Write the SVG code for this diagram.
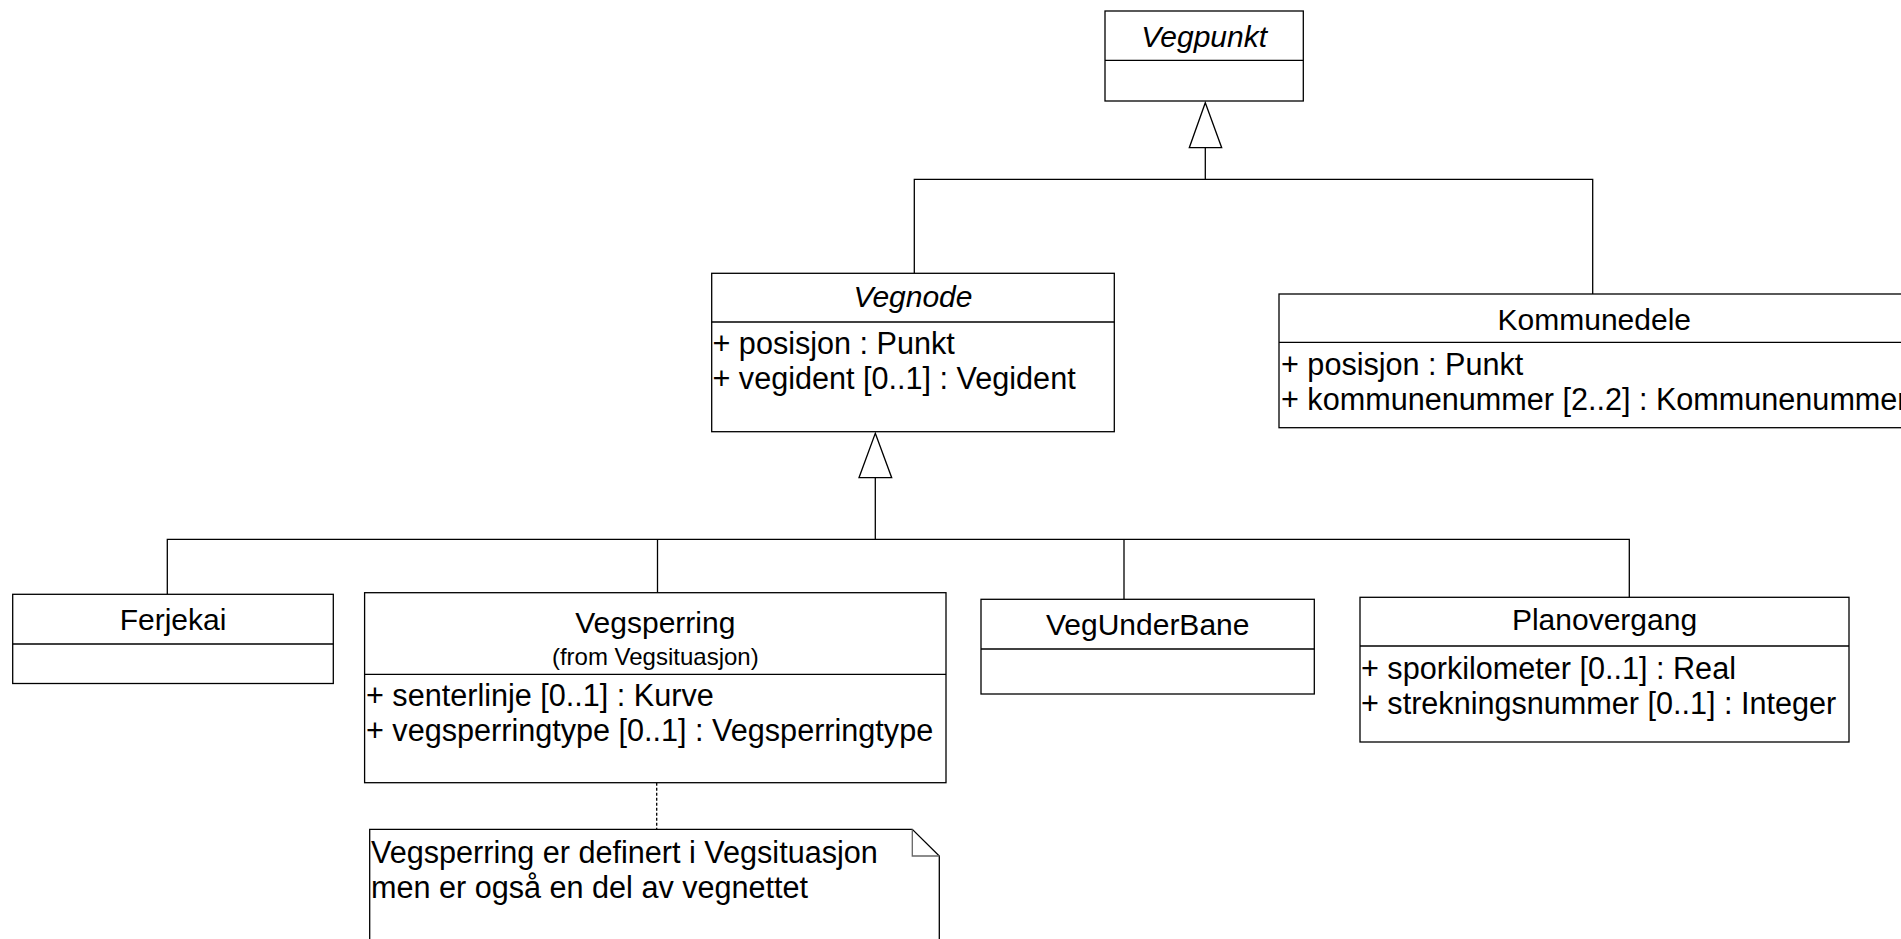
<svg xmlns="http://www.w3.org/2000/svg" width="1901" height="939" viewBox="0 0 1901 939">
<style>
  .box { fill: #ffffff; stroke: #000000; stroke-width: 1.3; }
  .div { stroke: #000000; stroke-width: 1.3; fill: none; }
  .t { font-family: "Liberation Sans", Arial, sans-serif; font-size: 30.6px; fill: #000000; }
  .title { text-anchor: middle; font-size: 30px; }
  .it { font-style: italic; }
  .small { font-family: "Liberation Sans", Arial, sans-serif; font-size: 24px; fill: #000000; text-anchor: middle; }
  .conn { stroke: #000000; stroke-width: 1.3; fill: none; }
  .tri { fill: #ffffff; stroke: #000000; stroke-width: 1.3; }
  .dash { stroke: #000000; stroke-width: 1.3; fill: none; stroke-dasharray: 3 2; }
  .fold { stroke: #666666; stroke-width: 1.3; fill: none; }
</style>
<rect width="1901" height="939" fill="#ffffff"/>

<g id="connectors">
  <!-- Vegpunkt generalization -->
  <path class="conn" d="M914.3,273.3 V179.3 H1592.7 V294"/>
  <path class="conn" d="M1205.3,147.7 V179.3"/>
  <polygon class="tri" points="1205.3,102.7 1221.7,147.7 1189.3,147.7"/>
  <!-- Vegnode generalization -->
  <path class="conn" d="M167.3,594.3 V539.3 H1629.3 V597.3"/>
  <path class="conn" d="M657.5,592.7 V539.3"/>
  <path class="conn" d="M1124,599.3 V539.3"/>
  <path class="conn" d="M875.3,477.7 V539.3"/>
  <polygon class="tri" points="875.3,433.3 891.7,477.7 859,477.7"/>
  <!-- note link -->
  <path class="dash" d="M656.7,782.7 V829.3"/>
</g>

<g id="Vegpunkt">
  <rect class="box" x="1105" y="11" width="198.3" height="90"/>
  <line class="div" x1="1105" y1="60.3" x2="1303.3" y2="60.3"/>
  <text class="t title it" x="1204.2" y="46.5">Vegpunkt</text>
</g>

<g id="Vegnode">
  <rect class="box" x="711.7" y="273.3" width="402.6" height="158.4"/>
  <line class="div" x1="711.7" y1="322" x2="1114.3" y2="322"/>
  <text class="t title it" x="913" y="306.7">Vegnode</text>
  <text class="t" x="712.5" y="353.5">+ posisjon : Punkt</text>
  <text class="t" x="712.5" y="389">+ vegident [0..1] : Vegident</text>
</g>

<g id="Kommunedele">
  <rect class="box" x="1279" y="294" width="640" height="133.7"/>
  <line class="div" x1="1279" y1="342.3" x2="1919" y2="342.3"/>
  <text class="t title" x="1594.3" y="330">Kommunedele</text>
  <text class="t" x="1281" y="375">+ posisjon : Punkt</text>
  <text class="t" x="1281" y="410">+ kommunenummer [2..2] : Kommunenummer</text>
</g>

<g id="Ferjekai">
  <rect class="box" x="12.7" y="594.3" width="320.6" height="89.2"/>
  <line class="div" x1="12.7" y1="644" x2="333.3" y2="644"/>
  <text class="t title" x="173" y="630">Ferjekai</text>
</g>

<g id="Vegsperring">
  <rect class="box" x="364.6" y="592.7" width="581.4" height="190"/>
  <line class="div" x1="364.6" y1="674.3" x2="946" y2="674.3"/>
  <text class="t title" x="655.3" y="633">Vegsperring</text>
  <text class="small" x="655.3" y="665">(from Vegsituasjon)</text>
  <text class="t" x="366" y="705.5">+ senterlinje [0..1] : Kurve</text>
  <text class="t" x="366" y="740.5">+ vegsperringtype [0..1] : Vegsperringtype</text>
</g>

<g id="VegUnderBane">
  <rect class="box" x="981" y="599.3" width="333.3" height="94.7"/>
  <line class="div" x1="981" y1="649" x2="1314.3" y2="649"/>
  <text class="t title" x="1147.7" y="635">VegUnderBane</text>
</g>

<g id="Planovergang">
  <rect class="box" x="1360" y="597.3" width="489" height="144.7"/>
  <line class="div" x1="1360" y1="646" x2="1849" y2="646"/>
  <text class="t title" x="1604.5" y="630">Planovergang</text>
  <text class="t" x="1361" y="678.5">+ sporkilometer [0..1] : Real</text>
  <text class="t" x="1361" y="713.5">+ strekningsnummer [0..1] : Integer</text>
</g>

<g id="note">
  <path class="box" d="M369.7,960 V829.3 H912.3 L939.3,856 V960 Z"/>
  <path class="fold" d="M912.3,829.3 V856 H939.3"/>
  <text class="t" x="371" y="863.3">Vegsperring er definert i Vegsituasjon</text>
  <text class="t" x="371" y="898.3">men er også en del av vegnettet</text>
</g>
</svg>
